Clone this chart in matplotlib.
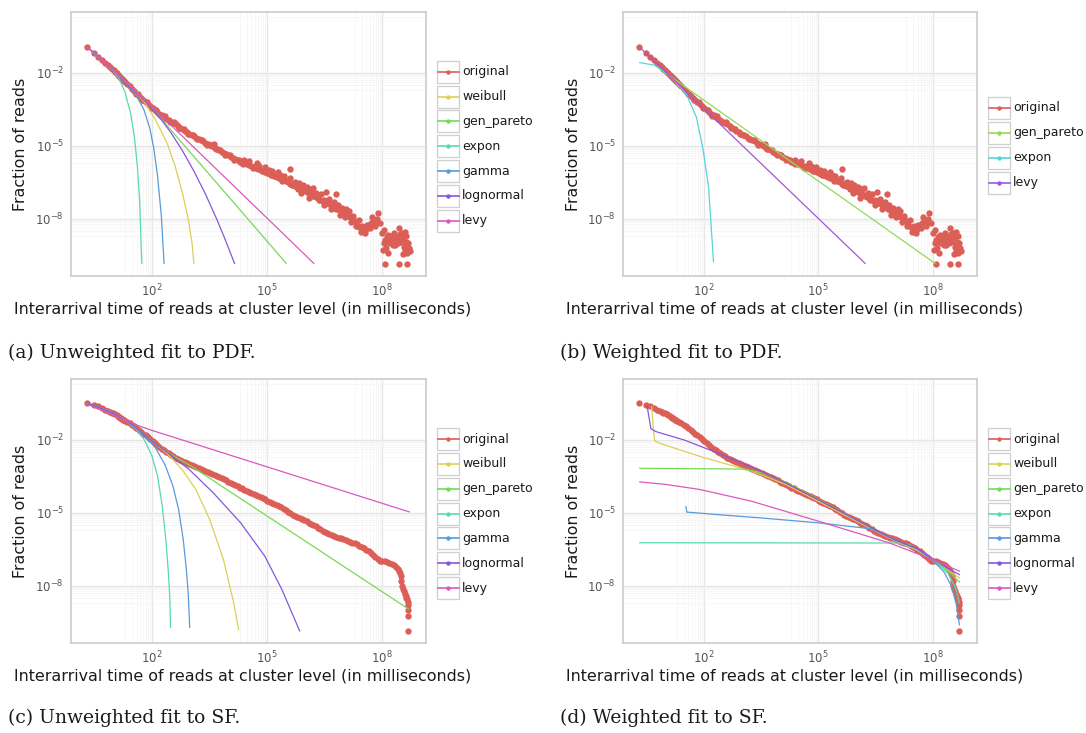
import numpy as np
import matplotlib
matplotlib.use('Agg')
import matplotlib.pyplot as plt
import seaborn as sns
from matplotlib.patches import Rectangle
from matplotlib.ticker import FixedLocator, NullFormatter

# observed pdf: (log10 interarrival ms, log10 fraction of reads)
pdf_obs = [
    (0.30, -0.96), (0.48, -1.18), (0.60, -1.35), (0.70, -1.48), (0.78, -1.59), (0.85, -1.69),
    (0.90, -1.77), (0.95, -1.84), (1.00, -1.91), (1.04, -1.97), (1.08, -2.03), (1.11, -2.08),
    (1.15, -2.14), (1.18, -2.19), (1.20, -2.22), (1.23, -2.27), (1.26, -2.31), (1.28, -2.34),
    (1.30, -2.37), (1.36, -2.47), (1.42, -2.57), (1.48, -2.66), (1.54, -2.76), (1.60, -2.86),
    (1.66, -2.95), (1.72, -3.04), (1.78, -3.12), (1.84, -3.20), (1.90, -3.29), (1.96, -3.38),
    (2.02, -3.45), (2.08, -3.53), (2.14, -3.61), (2.20, -3.69), (2.26, -3.76), (2.32, -3.83),
    (2.38, -3.89), (2.44, -3.95), (2.50, -4.02), (2.56, -4.08), (2.62, -4.13), (2.68, -4.20),
    (2.74, -4.26), (2.80, -4.32), (2.86, -4.39), (2.92, -4.45), (2.98, -4.51), (3.04, -4.57),
    (3.10, -4.62), (3.16, -4.68), (3.22, -4.73), (3.28, -4.78), (3.34, -4.83), (3.40, -4.88),
    (3.46, -4.93), (3.52, -4.98), (3.58, -5.03), (3.64, -5.09), (3.70, -5.14), (3.76, -5.19),
    (3.82, -5.25), (3.88, -5.30), (3.94, -5.35), (4.00, -5.40), (4.06, -5.46), (4.12, -5.51),
    (4.18, -5.56), (4.24, -5.61), (4.30, -5.66), (4.36, -5.70), (4.42, -5.73), (4.48, -5.77),
    (4.54, -5.80), (4.60, -5.84), (4.66, -5.88), (4.72, -5.92), (4.78, -5.96), (4.84, -6.00),
    (4.90, -6.04), (4.96, -6.08), (5.02, -6.12), (5.08, -6.16), (5.14, -6.20), (5.20, -6.24),
    (5.26, -6.29), (5.32, -6.33), (5.38, -6.38), (5.44, -6.42), (5.50, -6.47), (5.56, -6.51),
    (5.62, -6.56), (5.68, -6.60), (5.74, -6.65), (5.80, -6.70), (5.86, -6.74), (5.92, -6.79),
    (5.98, -6.84), (6.04, -6.90), (6.10, -6.95), (6.16, -7.01), (6.22, -7.07), (6.28, -7.12),
    (6.34, -7.17), (6.40, -7.22), (6.46, -7.27), (6.52, -7.32), (6.58, -7.37), (6.64, -7.42),
    (6.70, -7.47), (6.76, -7.53), (6.82, -7.59), (6.88, -7.64), (6.94, -7.70), (7.00, -7.75),
    (7.06, -7.81), (7.12, -7.88), (7.18, -7.94), (7.24, -8.02), (7.30, -8.12), (7.36, -8.25),
    (7.42, -8.36), (7.48, -8.45), (7.54, -8.50), (7.60, -8.44), (7.66, -8.30), (7.72, -8.18),
    (7.78, -8.12), (7.84, -8.10),
    # spread around the trend
    (1.63, -2.86), (1.75, -3.13), (1.87, -3.20), (1.99, -3.47), (2.11, -3.52), (2.23, -3.77),
    (2.35, -3.80), (2.47, -4.03), (2.59, -4.05), (2.71, -4.28), (2.83, -4.30), (2.95, -4.53),
    (3.07, -4.55), (3.19, -4.75), (3.31, -4.76), (3.43, -4.96), (3.55, -4.96), (3.67, -5.16),
    (3.79, -5.17), (3.91, -5.38), (4.03, -5.38), (4.15, -5.58), (4.27, -5.58), (4.39, -5.76),
    (4.51, -5.74), (4.63, -5.91), (4.69, -5.83), (4.87, -6.06), (4.99, -6.05), (5.11, -6.22),
    (5.23, -6.21), (5.41, -6.45), (5.53, -6.44), (5.65, -6.63), (5.71, -6.55), (5.83, -6.77),
    (6.01, -6.82), (6.13, -7.02), (6.25, -7.04), (6.37, -7.25), (6.49, -7.22),
    (3.62, -4.94), (4.40, -5.60), (4.55, -5.62), (4.75, -5.73), (4.80, -5.85), (4.95, -5.90),
    (5.05, -6.00), (5.15, -6.05), (5.30, -6.10), (5.35, -6.20), (5.45, -6.25), (5.60, -6.35),
    (5.62, -5.98), (5.75, -6.50), (5.85, -6.55), (5.90, -6.95), (5.95, -6.62), (6.05, -6.72),
    (6.10, -7.15), (6.15, -6.80), (6.20, -6.75), (6.30, -6.95), (6.42, -7.00), (6.50, -7.45),
    (6.55, -6.90), (6.62, -7.18), (6.68, -7.62), (6.75, -7.30), (6.80, -6.98), (6.86, -7.45),
    (6.92, -7.85), (6.97, -7.55), (7.04, -7.95), (7.08, -7.62), (7.15, -7.70), (7.20, -8.15),
    (7.26, -7.90), (7.32, -8.30), (7.40, -8.05), (7.45, -8.55), (7.50, -8.30), (7.56, -8.60),
    (7.62, -8.25), (7.70, -8.40), (7.75, -7.95), (7.82, -8.30), (7.87, -8.00),
    # tail
    (7.91, -7.79), (7.96, -8.20), (8.00, -8.61), (8.04, -9.29), (8.06, -9.00), (8.07, -8.45),
    (8.09, -8.88), (8.11, -9.20), (8.13, -8.74), (8.15, -8.95), (8.17, -9.40), (8.18, -8.68),
    (8.20, -8.85), (8.23, -9.02), (8.25, -8.70), (8.27, -8.81), (8.29, -9.10), (8.32, -8.61),
    (8.34, -8.90), (8.36, -9.09), (8.38, -8.80), (8.40, -8.74), (8.43, -9.00), (8.45, -8.40),
    (8.48, -8.65), (8.50, -8.88), (8.52, -8.95), (8.54, -8.61), (8.55, -9.45), (8.56, -8.80),
    (8.58, -9.15), (8.60, -8.55), (8.61, -9.30), (8.63, -8.95), (8.65, -8.70), (8.67, -9.43),
    (8.70, -9.00), (8.72, -9.22), (8.74, -9.35), (8.09, -9.87), (8.45, -9.87), (8.67, -9.87),
]

# observed survival function: (log10 ms, log10 fraction of reads)
sf_obs = [
    (0.30, -0.48), (0.48, -0.57), (0.60, -0.64), (0.70, -0.71), (0.78, -0.77), (0.85, -0.82),
    (0.90, -0.86), (0.95, -0.90), (0.99, -0.92), (1.04, -0.96), (1.08, -1.00), (1.11, -1.03),
    (1.15, -1.07), (1.18, -1.10), (1.20, -1.12), (1.23, -1.15), (1.26, -1.18), (1.28, -1.20),
    (1.30, -1.22), (1.36, -1.27), (1.42, -1.32), (1.48, -1.39), (1.54, -1.46), (1.60, -1.53),
    (1.66, -1.61), (1.72, -1.68), (1.78, -1.76), (1.84, -1.83), (1.90, -1.91), (1.96, -1.99),
    (2.02, -2.07), (2.08, -2.15), (2.14, -2.23), (2.20, -2.30), (2.26, -2.37), (2.32, -2.44),
    (2.38, -2.50), (2.44, -2.57), (2.50, -2.63), (2.56, -2.68), (2.62, -2.74), (2.68, -2.79),
    (2.74, -2.84), (2.80, -2.88), (2.86, -2.93), (2.92, -2.98), (2.98, -3.02), (3.04, -3.06),
    (3.10, -3.10), (3.16, -3.14), (3.22, -3.17), (3.28, -3.21), (3.34, -3.25), (3.40, -3.28),
    (3.46, -3.32), (3.52, -3.36), (3.58, -3.41), (3.64, -3.45), (3.70, -3.50), (3.76, -3.54),
    (3.82, -3.59), (3.88, -3.64), (3.94, -3.68), (4.00, -3.73), (4.06, -3.78), (4.12, -3.82),
    (4.18, -3.87), (4.24, -3.92), (4.30, -3.97), (4.36, -4.01), (4.42, -4.06), (4.48, -4.10),
    (4.54, -4.15), (4.60, -4.19), (4.66, -4.24), (4.72, -4.28), (4.78, -4.33), (4.84, -4.37),
    (4.90, -4.42), (4.96, -4.46), (5.02, -4.51), (5.08, -4.55), (5.14, -4.60), (5.20, -4.64),
    (5.26, -4.69), (5.32, -4.74), (5.38, -4.79), (5.44, -4.84), (5.50, -4.90), (5.56, -4.97),
    (5.62, -5.03), (5.68, -5.09), (5.74, -5.14), (5.80, -5.18), (5.86, -5.23), (5.92, -5.27),
    (5.98, -5.31), (6.04, -5.36), (6.10, -5.41), (6.16, -5.46), (6.22, -5.51), (6.28, -5.57),
    (6.34, -5.62), (6.40, -5.68), (6.46, -5.74), (6.52, -5.80), (6.58, -5.84), (6.64, -5.89),
    (6.70, -5.93), (6.76, -5.97), (6.82, -6.00), (6.88, -6.03), (6.94, -6.06), (7.00, -6.10),
    (7.06, -6.13), (7.12, -6.17), (7.18, -6.20), (7.24, -6.23), (7.30, -6.27), (7.36, -6.31),
    (7.42, -6.36), (7.48, -6.40), (7.54, -6.45), (7.60, -6.52), (7.66, -6.59), (7.72, -6.66),
    (7.78, -6.74), (7.84, -6.83), (7.90, -6.92), (7.96, -6.98), (8.02, -7.00), (8.08, -7.01),
    (8.14, -7.03), (8.20, -7.06), (8.26, -7.10), (8.32, -7.16), (8.38, -7.24), (8.42, -7.30),
    (8.46, -7.40), (8.48, -7.50), (8.50, -7.62), (8.52, -7.80), (8.54, -8.00), (8.56, -8.13),
    (8.58, -8.24), (8.61, -8.35), (8.63, -8.44), (8.65, -8.50), (8.67, -8.56), (8.69, -8.66),
    (8.70, -8.79), (8.70, -9.02), (8.70, -9.27), (8.70, -9.86),
]

# (a) unweighted fits to the pdf
a_weibull = [(0.32, -0.96), (1.0, -1.92), (1.5, -2.66), (1.8, -3.20), (2.1, -3.95), (2.4, -4.90),
             (2.6, -5.80), (2.8, -6.95), (2.95, -8.00), (3.05, -9.00), (3.10, -9.84)]
a_gen_pareto = [(0.32, -0.96), (1.0, -1.92), (1.5, -2.65), (2.0, -3.45), (5.51, -9.84)]
a_expon = [(0.32, -0.96), (0.9, -1.77), (1.13, -2.20), (1.30, -2.80), (1.45, -3.70), (1.55, -4.70),
           (1.62, -5.80), (1.68, -7.20), (1.74, -9.84)]
a_gamma = [(0.32, -0.96), (1.0, -1.92), (1.4, -2.55), (1.6, -2.95), (1.8, -3.55), (1.95, -4.30),
           (2.05, -5.10), (2.15, -6.25), (2.25, -7.90), (2.32, -9.84)]
a_lognormal = [(0.32, -0.96), (1.0, -1.92), (1.5, -2.68), (1.9, -3.30), (2.2, -3.83), (2.5, -4.47),
               (2.8, -5.21), (3.1, -6.05), (3.4, -6.99), (3.7, -8.04), (3.9, -8.80), (4.16, -9.84)]
a_levy = [(0.32, -0.96), (1.0, -1.92), (1.5, -2.65), (2.0, -3.40), (6.23, -9.84)]

# (b) weighted fits to the pdf
b_gen_pareto = [(0.72, -1.70), (3.61, -4.91), (8.06, -9.84)]
b_expon = [(0.33, -1.59), (0.73, -1.70), (1.09, -2.11), (1.54, -2.86), (1.81, -3.82), (1.99, -5.19),
           (2.13, -6.69), (2.26, -9.77)]
b_levy = [(0.37, -1.02), (2.0, -3.47), (6.23, -9.84)]

# (c) unweighted fits to the survival function
c_weibull = [(0.32, -0.50), (1.0, -0.92), (1.5, -1.40), (2.0, -2.03), (2.4, -2.57), (2.8, -3.25),
             (3.15, -4.05), (3.51, -5.28), (3.87, -6.93), (4.14, -8.72), (4.27, -9.82)]
c_gen_pareto = [(0.32, -0.50), (1.0, -0.92), (1.5, -1.40), (2.0, -2.04), (2.5, -2.62), (3.0, -3.06),
                (8.70, -8.96)]
c_expon = [(0.32, -0.52), (0.9, -0.84), (1.3, -1.20), (1.6, -1.58), (1.8, -2.00), (2.0, -2.65),
           (2.15, -3.50), (2.27, -4.70), (2.36, -6.00), (2.43, -7.40), (2.47, -8.50), (2.49, -9.72)]
c_gamma = [(0.32, -0.50), (1.0, -0.92), (1.5, -1.40), (1.8, -1.82), (2.1, -2.35), (2.35, -3.05),
           (2.55, -3.90), (2.70, -4.87), (2.82, -6.10), (2.90, -7.30), (2.95, -8.30), (2.99, -9.72)]
c_lognormal = [(0.32, -0.50), (1.0, -0.92), (1.5, -1.40), (2.0, -2.04), (2.34, -2.45), (2.97, -3.22),
               (3.60, -4.18), (4.32, -5.42), (4.95, -6.79), (5.40, -8.17), (5.86, -9.86)]
c_levy = [(0.32, -0.55), (0.8, -0.85), (1.2, -1.13), (1.6, -1.40), (2.0, -1.62), (8.72, -4.97)]

# (d) weighted fits to the survival function
d_weibull = [(0.64, -0.65), (0.68, -1.50), (0.72, -2.05), (0.85, -2.15), (2.0, -2.74), (3.25, -3.29),
             (4.15, -3.84), (5.0, -4.53), (6.0, -5.35), (7.0, -6.15), (7.6, -6.55), (8.0, -6.95),
             (8.4, -7.35), (8.70, -7.69)]
d_gen_pareto = [(0.33, -3.18), (3.0, -3.21), (3.5, -3.35), (4.15, -3.75), (5.0, -4.45), (6.0, -5.30),
                (7.0, -6.12), (7.6, -6.50), (8.0, -6.90), (8.4, -7.40), (8.70, -7.85)]
d_expon = [(0.33, -6.24), (7.0, -6.25), (7.4, -6.32), (7.8, -6.70), (8.1, -7.05), (8.4, -7.50),
           (8.6, -8.10), (8.70, -8.72)]
d_gamma = [(1.54, -4.76), (1.56, -4.98), (2.35, -5.08), (3.5, -5.22), (5.0, -5.42), (6.4, -5.67),
           (7.0, -6.10), (7.6, -6.50), (8.0, -6.95), (8.3, -7.45), (8.5, -8.05), (8.62, -8.80),
           (8.70, -9.61)]
d_lognormal = [(0.52, -0.61), (0.62, -1.55), (0.75, -1.67), (1.5, -2.02), (2.35, -2.54), (3.25, -3.12),
               (4.15, -3.78), (5.0, -4.47), (6.0, -5.30), (7.0, -6.12), (7.6, -6.48), (8.0, -6.90),
               (8.4, -7.30), (8.70, -7.55)]
d_levy = [(0.33, -3.74), (1.0, -3.84), (1.9, -4.05), (3.25, -4.53), (5.0, -5.35), (6.85, -6.24),
          (8.0, -6.93), (8.70, -7.41)]

all_names = ['original', 'weibull', 'gen_pareto', 'expon', 'gamma', 'lognormal', 'levy']
b_names = ['original', 'gen_pareto', 'expon', 'levy']

panels = [
    ('(a) Unweighted fit to PDF.', pdf_obs, all_names,
     [a_weibull, a_gen_pareto, a_expon, a_gamma, a_lognormal, a_levy]),
    ('(b) Weighted fit to PDF.', pdf_obs, b_names,
     [b_gen_pareto, b_expon, b_levy]),
    ('(c) Unweighted fit to SF.', sf_obs, all_names,
     [c_weibull, c_gen_pareto, c_expon, c_gamma, c_lognormal, c_levy]),
    ('(d) Weighted fit to SF.', sf_obs, all_names,
     [d_weibull, d_gen_pareto, d_expon, d_gamma, d_lognormal, d_levy]),
]

W, H = 1086, 733
fig = plt.figure(figsize=(W / 100, H / 100), dpi=100)

# pixel boxes (left, top, right, bottom) of the four plotting areas
boxes = [(71, 12, 426, 276), (623, 12, 977, 276), (71, 379, 426, 643), (623, 379, 977, 643)]
caption_xy = [(8, 353), (560, 353), (8, 718), (560, 718)]
legend_x = [437, 988, 437, 988]
legend_top = [71.7, 108, 439, 439]

over = fig.add_axes([0, 0, 1, 1])
over.set_xlim(0, W)
over.set_ylim(H, 0)
over.axis('off')


def unlog(pts):
    t, p = zip(*pts)
    return 10.0 ** np.array(t), 10.0 ** np.array(p)


for i, (caption, obs, names, fits) in enumerate(panels):
    l, t, r, b = boxes[i]
    ax = fig.add_axes([l / W, 1 - b / H, (r - l) / W, (b - t) / H])
    colors = sns.color_palette('hls', len(names))

    ox, oy = unlog(obs)
    ax.scatter(ox, oy, s=21, color=colors[0], linewidths=0, zorder=3)
    for pts, c in zip(fits, colors[1:]):
        fx, fy = unlog(pts)
        ax.plot(fx, fy, color=c, lw=0.9, zorder=4)

    ax.set_xscale('log')
    ax.set_yscale('log')
    ax.set_xlim(10 ** -0.11, 10 ** 9.16)
    ax.set_ylim(10 ** -10.36, 10 ** 0.49)
    ax.set_xticks([1e2, 1e5, 1e8])
    ax.set_yticks([1e-2, 1e-5, 1e-8])
    ax.xaxis.set_minor_locator(FixedLocator([s * 10.0 ** (m - 1) for m in (2, 5, 8) for s in range(2, 10)]))
    ax.yaxis.set_minor_locator(FixedLocator([s * 10.0 ** (m - 1) for m in (1, -2, -5, -8) for s in range(2, 10)]))
    ax.xaxis.set_minor_formatter(NullFormatter())
    ax.yaxis.set_minor_formatter(NullFormatter())
    ax.grid(which='major', color='#e6e6e6', lw=1.0)
    ax.grid(which='minor', color='#f4f4f4', lw=0.5)
    ax.set_axisbelow(True)
    ax.tick_params(which='both', length=0, labelsize=8.5, labelcolor='#555555')
    ax.tick_params(axis='x', pad=5)
    ax.tick_params(axis='y', pad=5)
    for sp in ax.spines.values():
        sp.set_color('#cccccc')
        sp.set_linewidth(1.2)

    # axis titles
    over.text(l + 172, b + 33, 'Interarrival time of reads at cluster level (in milliseconds)',
              ha='center', va='center', fontsize=11.4, color='#1a1a1a')
    over.text(l - 50, (t + b) / 2, 'Fraction of reads', rotation=90,
              ha='center', va='center', fontsize=11.4, color='#1a1a1a')

    # legend keys
    lx = legend_x[i]
    for k, (name, c) in enumerate(zip(names, colors)):
        yc = legend_top[i] + k * 24.85
        over.add_patch(Rectangle((lx, yc - 11), 22, 22, facecolor='white',
                                 edgecolor='#cfcfcf', lw=0.9))
        over.plot([lx + 0.5, lx + 21.5], [yc, yc], color=c, lw=1.2)
        over.plot([lx + 11], [yc], 'o', color=c, ms=3.2, mew=0)
        over.text(lx + 25, yc, name, ha='left', va='center', fontsize=9, color='#1a1a1a')

    cx, cy = caption_xy[i]
    over.text(cx, cy, caption, ha='left', va='center', fontsize=13.5,
              family='DejaVu Serif', color='#1a1a1a')

fig.savefig('out.png', dpi=100)
